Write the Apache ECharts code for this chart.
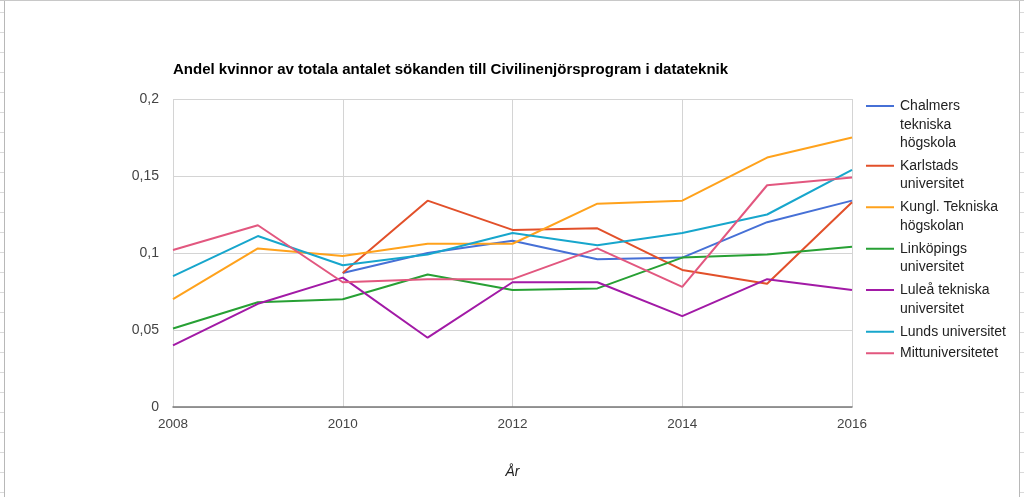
<!DOCTYPE html>
<html>
<head>
<meta charset="utf-8">
<title>Andel kvinnor</title>
<script src="https://cdn.jsdelivr.net/npm/echarts@6/dist/echarts.min.js"></script>
<style>
  html, body { margin: 0; padding: 0; background: #fff; }
  #chart-ctn { position: absolute; left: 0; top: 0; width: 1024px; height: 497px; }
  .sheet-edge {
    position: absolute; top: 0; height: 497px;
    background-image: repeating-linear-gradient(to bottom, transparent 0, transparent 12px, #dadada 12px, #dadada 13px, transparent 13px, transparent 20px);
  }
  #edge-l { left: 0; width: 4px; border-right: 1px solid #b8b8b8; }
  #edge-r { left: 1019px; width: 5px; border-left: 1px solid #b8b8b8; }
  #edge-t { position: absolute; left: 0; top: 0; width: 1024px; height: 1px; background: #c8c8c8; }
</style>
</head>
<body>
<div id="chart-ctn"></div>
<div id="edge-l" class="sheet-edge"></div>
<div id="edge-r" class="sheet-edge"></div>
<div id="edge-t"></div>
<script>
var years = [2008, 2009, 2010, 2011, 2012, 2013, 2014, 2015, 2016];

var chalmers  = [null, null, 0.087, 0.100, 0.108, 0.096, 0.097, 0.120, 0.134];
var karlstad  = [null, null, 0.087, 0.134, 0.115, 0.116, 0.089, 0.080, 0.133];
var kth       = [0.070, 0.103, 0.098, 0.106, 0.106, 0.132, 0.134, 0.162, 0.175];
var linkoping = [0.051, 0.068, 0.070, 0.086, 0.076, 0.077, 0.097, 0.099, 0.104];
var lulea     = [0.040, 0.067, 0.084, 0.045, 0.081, 0.081, 0.059, 0.083, 0.076];
var lund      = [0.085, 0.111, 0.092, 0.099, 0.113, 0.105, 0.113, 0.125, 0.154];
var mittuni   = [0.102, 0.118, 0.081, 0.083, 0.083, 0.103, 0.078, 0.144, 0.149];

var seriesNames = [
  'Chalmers tekniska högskola',
  'Karlstads universitet',
  'Kungl. Tekniska högskolan',
  'Linköpings universitet',
  'Luleå tekniska universitet',
  'Lunds universitet',
  'Mittuniversitetet'
];
// how the legend wraps the names
var legendLabels = [
  'Chalmers\ntekniska\nhögskola',
  'Karlstads\nuniversitet',
  'Kungl. Tekniska\nhögskolan',
  'Linköpings\nuniversitet',
  'Luleå tekniska\nuniversitet',
  'Lunds universitet',
  'Mittuniversitetet'
];
var seriesValues = [chalmers, karlstad, kth, linkoping, lulea, lund, mittuni];
var colors = ['#4670d6', '#e2502a', '#ffa21c', '#27a034', '#a21aa6', '#17a6cc', '#e2577f'];

var yTicks = ['0', '0,05', '0,1', '0,15', '0,2'];

var chartTitle = 'Andel kvinnor av totala antalet sökanden till Civilinenjörsprogram i datateknik';
var xTitle = 'År';

function pairs(vals) {
  var out = [];
  for (var i = 0; i < years.length; i++) {
    out.push([years[i], vals[i]]);
  }
  return out;
}

function buildSeries() {
  var list = [];
  for (var i = 0; i < seriesNames.length; i++) {
    list.push({
      name: seriesNames[i],
      type: 'line',
      data: pairs(seriesValues[i]),
      showSymbol: false,
      symbol: 'none',
      connectNulls: false,
      color: colors[i],
      lineStyle: { width: 2, color: colors[i] }
    });
  }
  return list;
}

var lineH = 18.7;
var legendFirstLine = [106, 165.7, 207.3, 248.7, 290, 331.7, 353.3];

// legend mark sits on the first text line: a 2px bar at the top of a box as tall as the text
function legendIcon(h) {
  var y0 = (lineH / 2 - 1).toFixed(2);
  var y1 = (lineH / 2 + 1).toFixed(2);
  return 'path://M0,0 L1,0 Z M0,' + y0 + ' L28,' + y0 + ' L28,' + y1 + ' L0,' + y1 +
    ' Z M27,' + h.toFixed(2) + ' L28,' + h.toFixed(2) + ' Z';
}

function buildLegends() {
  var list = [];
  for (var i = 0; i < seriesNames.length; i++) {
    var lines = legendLabels[i].split('\n').length;
    var h = lines * lineH;
    list.push({
      data: [seriesNames[i]],
      orient: 'vertical',
      left: 866,
      top: legendFirstLine[i] - lineH / 2,
      padding: 0,
      itemWidth: 28,
      itemHeight: h,
      itemGap: 0,
      icon: legendIcon(h),
      formatter: (function (lbl) { return function () { return lbl; }; })(legendLabels[i]),
      textStyle: {
        fontFamily: 'Liberation Sans, Arial, sans-serif',
        fontSize: 14,
        color: '#222',
        lineHeight: lineH,
        padding: [0, 0, 0, 1]
      }
    });
  }
  return list;
}

var chart = echarts.init(document.getElementById('chart-ctn'));

chart.setOption({
  backgroundColor: '#fff',
  animation: false,
  textStyle: { fontFamily: 'Liberation Sans, Arial, sans-serif' },
  title: {
    text: chartTitle,
    left: 168,
    top: 57,
    textStyle: { fontSize: 15, fontWeight: 'bold', color: '#000', fontFamily: 'Liberation Sans, Arial, sans-serif' }
  },
  legend: buildLegends(),
  grid: { left: 173, right: 172, top: 99, bottom: 90, containLabel: false },
  xAxis: {
    type: 'value',
    min: 2008,
    max: 2016,
    interval: 2,
    name: xTitle,
    nameLocation: 'middle',
    nameGap: 58,
    nameTextStyle: { fontStyle: 'italic', fontSize: 14, color: '#222' },
    axisLine: { show: true, lineStyle: { color: '#777', width: 1.5 } },
    axisTick: { show: false },
    axisLabel: {
      margin: 10,
      fontSize: 13.5,
      color: '#444',
      formatter: function (v) { return String(v); }
    },
    splitLine: { show: true, lineStyle: { color: '#d4d4d4', width: 1 } }
  },
  yAxis: {
    type: 'value',
    min: 0,
    max: 0.2,
    interval: 0.05,
    axisLine: { show: false },
    axisTick: { show: false },
    axisLabel: {
      margin: 14,
      fontSize: 14,
      color: '#444',
      formatter: function (v) { return yTicks[Math.round(v / 0.05)]; }
    },
    splitLine: { show: true, lineStyle: { color: '#d4d4d4', width: 1 } }
  },
  series: buildSeries()
});
</script>
</body>
</html>
